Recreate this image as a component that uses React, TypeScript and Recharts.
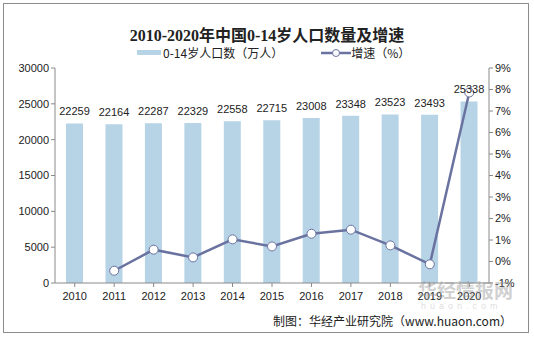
import React from "react";
import {
  ComposedChart,
  Bar,
  Line,
  XAxis,
  YAxis,
  LabelList,
} from "recharts";

const years = ["2010", "2011", "2012", "2013", "2014", "2015", "2016", "2017", "2018", "2019", "2020"];
const population = [22259, 22164, 22287, 22329, 22558, 22715, 23008, 23348, 23523, 23493, 25338];
const growth: (number | null)[] = [null, -0.43, 0.55, 0.19, 1.03, 0.7, 1.29, 1.48, 0.75, -0.13, 7.86];
const leftTicks = [0, 5000, 10000, 15000, 20000, 25000, 30000];
const rightTicks = [-1, 0, 1, 2, 3, 4, 5, 6, 7, 8, 9];

const data = years.map((year, i) => ({
  year,
  population: population[i],
  growth: growth[i],
}));

const barColor = "#b7d3e6";
const lineColor = "#6a73a0";
const axisColor = "#8a8a8a";
const tickStyle = { fill: "#222", fontSize: 11, fontFamily: "Arial, 'Liberation Sans', sans-serif" };

export default function App() {
  return (
    <div
      style={{
        position: "absolute",
        left: 0,
        top: 0,
        width: 534,
        height: 337,
        background: "#fff",
        overflow: "hidden",
      }}
    >
      <div
        style={{
          position: "absolute",
          left: 3,
          top: 3,
          width: 524,
          height: 328,
          border: "1px solid #8c8c8c",
        }}
      />
      <div
        style={{
          position: "absolute",
          left: 0,
          top: 22,
          width: 534,
          textAlign: "center",
          fontFamily: "'Liberation Serif', 'Noto Sans CJK SC', serif",
          fontWeight: "bold",
          fontSize: 16,
          color: "#222",
        }}
      >
        2010-2020年中国0-14岁人口数量及增速
      </div>
      <div
        style={{
          position: "absolute",
          top: 44,
          left: 137,
          display: "flex",
          alignItems: "center",
          fontFamily: "'Noto Sans CJK SC', sans-serif",
          fontSize: 12,
          color: "#222",
        }}
      >
        <span style={{ display: "inline-block", width: 24, height: 5, background: barColor, marginRight: 2 }} />
        <span>0-14岁人口数（万人）</span>
        <svg width={30} height={12} style={{ marginLeft: 38 }}>
          <line x1={0} y1={6} x2={30} y2={6} stroke={lineColor} strokeWidth={2.5} />
          <circle cx={15} cy={6} r={3.5} fill="#fff" stroke={lineColor} strokeWidth={1} />
        </svg>
        <span>增速（%）</span>
      </div>
      <ComposedChart
        width={534}
        height={337}
        data={data}
        margin={{ top: 68, right: 0, bottom: 0, left: 0 }}
        style={{ position: "absolute", left: 0, top: 0 }}
      >
        <XAxis
          dataKey="year"
          tick={tickStyle}
          axisLine={{ stroke: axisColor }}
          tickLine={{ stroke: axisColor }}
          tickSize={4}
          height={54}
          tickMargin={5}
        />
        <YAxis
          yAxisId="left"
          domain={[0, 30000]}
          ticks={leftTicks}
          tick={tickStyle}
          axisLine={{ stroke: axisColor }}
          tickLine={{ stroke: axisColor }}
          tickSize={4}
          width={55}
          interval={0}
        />
        <YAxis
          yAxisId="right"
          orientation="right"
          domain={[-1, 9]}
          ticks={rightTicks}
          tickFormatter={(v) => `${v}%`}
          tick={tickStyle}
          axisLine={{ stroke: axisColor }}
          tickLine={{ stroke: axisColor }}
          tickSize={4}
          width={45}
          interval={0}
        />
        <Bar yAxisId="left" dataKey="population" fill={barColor} barSize={17} isAnimationActive={false}>
          <LabelList dataKey="population" position="top" offset={8} style={tickStyle} />
        </Bar>
        <Line
          yAxisId="right"
          dataKey="growth"
          stroke={lineColor}
          strokeWidth={2.5}
          dot={{ r: 4.5, fill: "#fff", stroke: lineColor, strokeWidth: 1 }}
          isAnimationActive={false}
          connectNulls={false}
        />
      </ComposedChart>
      <div
        style={{
          position: "absolute",
          left: 418,
          top: 279,
          fontFamily: "'Noto Sans CJK SC', sans-serif",
          fontWeight: "bold",
          fontSize: 19,
          lineHeight: "22px",
          color: "rgba(150,150,150,0.45)",
        }}
      >
        华经情报网
      </div>
      <div
        style={{
          position: "absolute",
          left: 421,
          top: 301,
          fontFamily: "Arial, sans-serif",
          fontSize: 9,
          lineHeight: "10px",
          letterSpacing: 4,
          color: "rgba(150,150,150,0.35)",
        }}
      >
        huaon.com
      </div>
      <div
        style={{
          position: "absolute",
          right: 22,
          top: 313,
          fontFamily: "'Noto Sans CJK SC', sans-serif",
          fontSize: 12,
          lineHeight: "16px",
          color: "#222",
        }}
      >
        制图：华经产业研究院（www.huaon.com）
      </div>
    </div>
  );
}
